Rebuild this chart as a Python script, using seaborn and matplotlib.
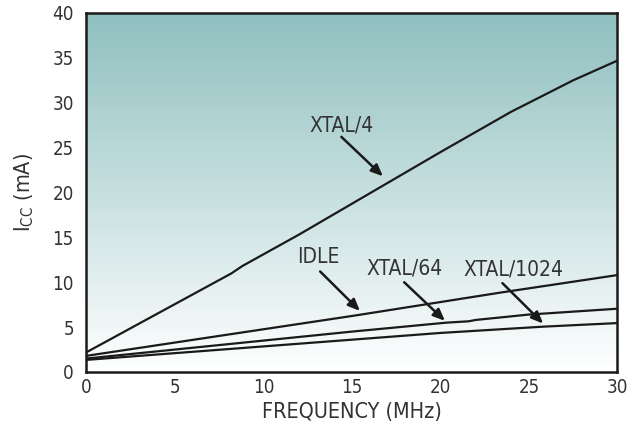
import numpy as np
import pandas as pd
import matplotlib
matplotlib.use("Agg")
import matplotlib.pyplot as plt
import seaborn as sns
from matplotlib.colors import LinearSegmentedColormap

# Data
freq_x4 = [0, 8.2, 8.8, 12, 16, 20, 24, 27.5, 30]
icc_x4 = [2.2, 11.0, 11.8, 15.3, 19.9, 24.5, 29.0, 32.5, 34.7]

freq_idle = [0, 15.2, 23.4, 30]
icc_idle = [1.8, 6.3, 8.85, 10.8]

freq_x64 = [0, 5, 10, 15, 20.35, 21.6, 22.0, 25, 30]
icc_x64 = [1.5, 2.5, 3.5, 4.5, 5.5, 5.65, 5.8, 6.4, 7.05]

freq_x1024 = [0, 5, 10, 15, 20, 25.8, 30]
icc_x1024 = [1.35, 2.1, 2.85, 3.6, 4.35, 5.05, 5.45]

x_ticks = [0, 5, 10, 15, 20, 25, 30]
y_ticks = [0, 5, 10, 15, 20, 25, 30, 35, 40]

labels = ["XTAL/4", "IDLE", "XTAL/64", "XTAL/1024"]
label_pos = [(14.4, 27.5), (13.1, 12.8), (17.95, 11.5), (24.1, 11.4)]
arrow_tail = [(14.4, 26.2), (13.2, 11.2), (17.95, 10.0), (23.5, 9.9)]
arrow_head = [(16.75, 21.8), (15.45, 6.8), (20.25, 5.7), (25.8, 5.4)]

sns.set_style("white")
plt.rcParams['font.family'] = ['DejaVu Sans']
plt.rcParams['font.stretch'] = 'condensed'
plt.rcParams['mathtext.fontset'] = 'custom'
plt.rcParams['mathtext.rm'] = 'DejaVu Sans:stretch=condensed'
plt.rcParams['mathtext.it'] = 'DejaVu Sans:stretch=condensed'
txt = '#333333'

fig = plt.figure(figsize=(6.43, 4.43), dpi=100)
ax = fig.add_axes([0.1345, 0.1603, 0.8258, 0.8104])

# gradient background
cmap = LinearSegmentedColormap.from_list('bg', ['#ffffff', '#8fbfbf'])
grad = np.linspace(0, 1, 256).reshape(-1, 1)
ax.imshow(grad, extent=[0, 30, 0, 40], origin='lower', aspect='auto', cmap=cmap,
          zorder=0, interpolation='bicubic')

frames = []
for name, fx, fy in [("XTAL/4", freq_x4, icc_x4), ("IDLE", freq_idle, icc_idle),
                     ("XTAL/64", freq_x64, icc_x64), ("XTAL/1024", freq_x1024, icc_x1024)]:
    frames.append(pd.DataFrame({"f": fx, "i": fy, "s": name}))
df = pd.concat(frames)

sns.lineplot(data=df, x="f", y="i", units="s", estimator=None, color='#1a1a1a',
             lw=1.6, ax=ax, legend=False, zorder=3)

for lab, p, t, h in zip(labels, label_pos, arrow_tail, arrow_head):
    ax.text(p[0], p[1], lab, ha='center', va='center', fontsize=15, color=txt, zorder=5)
    ax.annotate('', xy=h, xytext=t,
                arrowprops=dict(arrowstyle='-|>,head_length=0.7,head_width=0.3',
                                color='#1a1a1a', lw=1.8, shrinkA=0, shrinkB=0), zorder=5)

ax.set_xlim(0, 30)
ax.set_ylim(0, 40)
ax.set_xticks(x_ticks)
ax.set_yticks(y_ticks)
ax.tick_params(axis='both', length=0, labelsize=13.5, labelcolor=txt)
ax.tick_params(axis='y', pad=9)
ax.tick_params(axis='x', pad=4)
for sp in ax.spines.values():
    sp.set_visible(True)
    sp.set_color('#1a1a1a')
    sp.set_linewidth(1.8)
ax.set_xlabel("FREQUENCY (MHz)", fontsize=15.5, color=txt, labelpad=4)
ax.set_ylabel("I$_{\\mathrm{CC}}$ (mA)", fontsize=15.5, color=txt, labelpad=12)

fig.savefig("out.png", dpi=100)
